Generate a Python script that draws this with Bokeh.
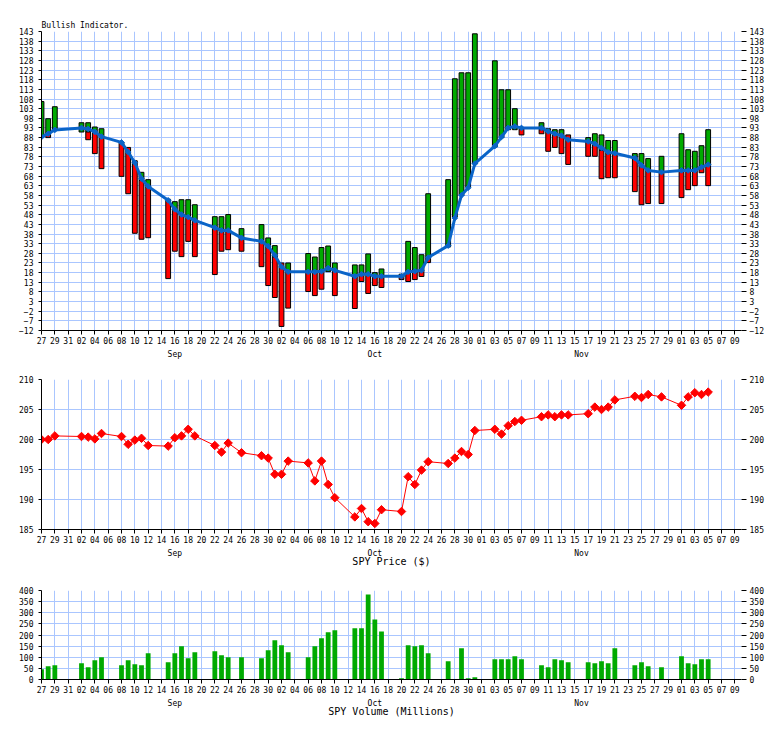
import math
import pandas as pd
from bokeh.plotting import figure
from bokeh.layouts import column
from bokeh.models import (Range1d, FixedTicker, LinearAxis, DatetimeAxis,
                          DatetimeTickFormatter, ColumnDataSource)
from bokeh.embed import file_html
from bokeh.resources import INLINE

# ---------------- data ----------------
dates = [
    "2014-08-27", "2014-08-28", "2014-08-29",
    "2014-09-02", "2014-09-03", "2014-09-04", "2014-09-05",
    "2014-09-08", "2014-09-09", "2014-09-10", "2014-09-11", "2014-09-12",
    "2014-09-15", "2014-09-16", "2014-09-17", "2014-09-18", "2014-09-19",
    "2014-09-22", "2014-09-23", "2014-09-24", "2014-09-26",
    "2014-09-29", "2014-09-30",
    "2014-10-01", "2014-10-02", "2014-10-03",
    "2014-10-06", "2014-10-07", "2014-10-08", "2014-10-09", "2014-10-10",
    "2014-10-13", "2014-10-14", "2014-10-15", "2014-10-16", "2014-10-17",
    "2014-10-20", "2014-10-21", "2014-10-22", "2014-10-23", "2014-10-24",
    "2014-10-27", "2014-10-28", "2014-10-29", "2014-10-30", "2014-10-31",
    "2014-11-03", "2014-11-04", "2014-11-05", "2014-11-06", "2014-11-07",
    "2014-11-10", "2014-11-11", "2014-11-12", "2014-11-13", "2014-11-14",
    "2014-11-17", "2014-11-18", "2014-11-19", "2014-11-20", "2014-11-21",
    "2014-11-24", "2014-11-25", "2014-11-26", "2014-11-28",
    "2014-12-01", "2014-12-02", "2014-12-03", "2014-12-04", "2014-12-05",
]

# Bullish indicator: bar top, split level (green above / red below), bar bottom
ind_high = [106.7, 97.8, 104.0,
            95.7, 95.7, 93.5, 92.6,
            85.7, 82.9, 76.0, 70.0, 66.2,
            56.0, 54.8, 55.8, 55.8, 53.2,
            47.0, 47.0, 48.1, 40.8,
            42.9, 36.0,
            32.0, 23.0, 23.0,
            27.9, 26.1, 31.0, 31.8, 23.0,
            22.0, 22.0, 27.7, 18.0, 19.9,
            17.2, 34.2, 31.0, 27.3, 58.9,
            66.2, 118.5, 121.6, 121.6, 141.8,
            127.8, 112.8, 112.8, 103.0, 92.5,
            95.7, 92.6, 92.1, 92.1, 89.4,
            88.0, 90.0, 89.4, 86.5, 86.5,
            79.7, 79.7, 77.1, 78.3,
            90.0, 81.7, 80.9, 83.8, 92.1]
ind_mid = [88.3, 90.0, 91.7,
           90.9, 90.9, 90.9, 88.3,
           85.7, 82.9, 76.0, 65.8, 62.4,
           56.0, 51.2, 48.6, 47.2, 45.5,
           41.3, 39.9, 39.9, 35.6,
           33.9, 32.2,
           26.1, 23.0, 18.4,
           18.4, 18.4, 19.2, 18.5, 19.2,
           16.1, 17.2, 17.5, 16.1, 16.1,
           15.6, 18.4, 19.2, 19.2, 25.3,
           31.3, 46.8, 58.1, 62.4, 74.5,
           83.1, 88.0, 92.1, 92.1, 92.5,
           92.1, 91.2, 90.0, 89.2, 89.4,
           85.7, 84.3, 81.4, 79.7, 79.3,
           77.9, 73.2, 71.0, 70.1,
           71.0, 71.0, 71.0, 73.2, 74.5]
ind_low = [88.3, 88.0, 91.7,
           90.9, 86.9, 79.7, 71.9,
           67.9, 58.9, 38.4, 35.3, 36.1,
           14.9, 29.1, 26.3, 34.2, 26.3,
           17.0, 29.1, 29.9, 29.1,
           21.1, 11.3,
           5.1, -9.9, -0.4,
           8.2, 6.1, 9.4, 18.5, 6.1,
           -0.6, 13.4, 7.2, 11.3, 10.3,
           14.4, 13.4, 14.4, 16.0, 23.2,
           31.3, 46.8, 58.1, 62.4, 74.5,
           83.1, 88.0, 92.1, 92.1, 89.4,
           90.0, 80.9, 82.9, 79.7, 74.1,
           78.3, 78.3, 66.7, 67.2, 67.2,
           60.0, 53.2, 53.8, 53.8,
           56.9, 61.0, 63.1, 69.8, 63.1]
ind_avg = [88.3, 90.0, 92.0,
           93.0, 92.5, 91.0, 88.5,
           85.5, 80.5, 75.0, 66.7, 62.7,
           55.5, 50.8, 48.1, 46.8, 45.1,
           41.3, 39.9, 39.9, 36.0,
           34.2, 31.7,
           27.0, 21.0, 18.4,
           18.4, 18.4, 18.7, 20.4, 19.2,
           16.1, 17.2, 17.2, 16.1, 16.1,
           16.1, 18.4, 18.7, 19.2, 25.8,
           32.0, 46.3, 58.1, 62.0, 74.5,
           83.6, 88.3, 93.1, 93.8, 93.0,
           93.0, 91.2, 90.0, 89.0, 86.9,
           86.0, 84.8, 82.6, 80.4, 79.9,
           77.4, 73.6, 71.0, 70.1,
           71.0, 71.0, 71.0, 72.7, 74.0]

spy_price = [200.0, 200.0, 200.6,
             200.5, 200.4, 200.1, 201.0,
             200.5, 199.2, 199.9, 200.2, 199.0,
             198.9, 200.3, 200.6, 201.7, 200.6,
             199.0, 197.9, 199.4, 197.8,
             197.3, 196.9,
             194.2, 194.2, 196.4,
             196.1, 193.1, 196.4, 192.5, 190.3,
             187.1, 188.5, 186.3, 186.0, 188.3,
             188.0, 193.8, 192.5, 194.9, 196.3,
             196.0, 196.9, 198.0, 197.5, 201.5,
             201.7, 200.9, 202.3, 203.0, 203.2,
             203.8, 204.1, 203.8, 204.1, 204.1,
             204.3, 205.4, 205.0, 205.4, 206.6,
             207.2, 207.0, 207.5, 207.1,
             205.7, 207.1, 207.8, 207.5, 207.9]

spy_volume = [46, 60, 64,
              73, 55, 87, 100,
              64, 87, 69, 64, 118,
              78, 118, 149, 95, 122,
              127, 109, 100, 100,
              95, 131,
              176, 154, 122,
              100, 149, 185, 212, 221,
              230, 230, 382, 270, 216,
              6, 154, 149, 154, 118,
              82, 2, 140, 6, 10,
              91, 91, 91, 104, 91,
              64, 55, 91, 87, 78,
              78, 73, 82, 73, 140,
              64, 78, 60, 55,
              104, 73, 69, 91, 91]

x_start, x_end = "2014-08-27", "2014-12-10"
x_tick_dates = list(pd.date_range("2014-08-27", "2014-12-09", freq="2D"))
month_label_dates = ["2014-09-16", "2014-10-16", "2014-11-16"]
ind_ticks = list(range(-12, 144, 5))
price_ticks = [185, 190, 195, 200, 205, 210]
vol_ticks = [0, 50, 100, 150, 200, 250, 300, 350, 400]

# ---------------- style ----------------
FONT = "DejaVu Sans Mono"
GRID = "#aac6ff"
GREEN = "#00aa00"
RED = "#ff0000"
BLUE = "#0a64c8"
DAY_MS = 86400000.0


def ms(d):
    return pd.Timestamp(d).value / 1e6


x = pd.to_datetime(dates)
xr = Range1d(start=ms(x_start), end=ms(x_end))
x_ticks = [ms(d) for d in x_tick_dates]
m_ticks = [ms(d) for d in month_label_dates]


def panel(height, top, bottom, y_lo, y_hi, y_ticks, title=None):
    p = figure(width=784, height=height, x_range=xr, y_range=Range1d(y_lo, y_hi),
               x_axis_type="datetime", output_backend="svg", toolbar_location=None,
               min_border_left=41, min_border_right=43,
               min_border_top=top, min_border_bottom=bottom)
    p.outline_line_color = None
    p.background_fill_color = "white"
    p.border_fill_color = "white"

    xa = p.below[0]
    xa.ticker = FixedTicker(ticks=x_ticks)
    xa.formatter = DatetimeTickFormatter(days="%d", months="%d", hours="%d")
    xa.major_tick_out = 4
    xa.major_tick_in = 0
    xa.minor_tick_out = 0
    xa.minor_tick_in = 0
    xa.major_label_standoff = 2
    xa.major_label_text_font = FONT
    xa.major_label_text_font_size = "8px"
    xa.major_label_text_color = "black"
    xa.axis_line_color = "black"
    xa.major_tick_line_color = "black"

    ma = DatetimeAxis(ticker=FixedTicker(ticks=m_ticks),
                      formatter=DatetimeTickFormatter(days="%b", months="%b", years="%b"))
    ma.axis_line_color = None
    ma.major_tick_line_color = None
    ma.minor_tick_line_color = None
    ma.major_tick_out = 0
    ma.major_tick_in = 0
    ma.minor_tick_out = 0
    ma.minor_tick_in = 0
    ma.major_label_standoff = 3
    ma.major_label_text_font = FONT
    ma.major_label_text_font_size = "8px"
    ma.major_label_text_color = "black"
    if title:
        ma.axis_label = title
        ma.axis_label_standoff = -5
        ma.axis_label_text_font = FONT
        ma.axis_label_text_font_size = "10px"
        ma.axis_label_text_font_style = "normal"
        ma.axis_label_text_color = "black"
    p.add_layout(ma, "below")

    ya = p.left[0]
    ya.ticker = FixedTicker(ticks=y_ticks)
    ya.major_tick_out = 3
    ya.major_tick_in = 0
    ya.minor_tick_out = 0
    ya.minor_tick_in = 0
    ya.major_label_standoff = 5
    ya.major_label_text_font = FONT
    ya.major_label_text_font_size = "8px"
    ya.major_label_text_color = "black"
    ya.axis_line_color = "black"

    ra = LinearAxis(ticker=FixedTicker(ticks=y_ticks))
    ra.major_tick_out = 5
    ra.major_tick_in = 0
    ra.minor_tick_out = 0
    ra.minor_tick_in = 0
    ra.major_label_standoff = 3
    ra.major_label_text_font = FONT
    ra.major_label_text_font_size = "8px"
    ra.major_label_text_color = "black"
    ra.axis_line_color = None
    p.add_layout(ra, "right")

    p.xgrid.ticker = FixedTicker(ticks=x_ticks)
    p.ygrid.ticker = FixedTicker(ticks=y_ticks)
    for g in (p.xgrid, p.ygrid):
        g.grid_line_color = GRID
        g.grid_line_width = 1
        g.grid_line_alpha = 1.0
    return p


# ---------------- top: bullish indicator ----------------
p1 = panel(368, 31, 38, ind_ticks[0], ind_ticks[-1], ind_ticks)
p1.title.text = "Bullish Indicator."
p1.title.align = "left"
p1.title.offset = 0
p1.title.text_font = FONT
p1.title.text_font_size = "8px"
p1.title.text_font_style = "normal"
p1.title.text_color = "black"
if "standoff" in p1.title.properties():
    p1.title.standoff = 3

df = pd.DataFrame({"x": x, "high": ind_high, "mid": ind_mid, "low": ind_low, "avg": ind_avg})
green = ColumnDataSource(df[df["high"] > df["mid"]])
red = ColumnDataSource(df[df["mid"] > df["low"]])
bw = 0.72 * DAY_MS
p1.vbar(x="x", width=bw, top="high", bottom="mid", source=green,
        fill_color=GREEN, line_color="black", line_width=1)
p1.vbar(x="x", width=bw, top="mid", bottom="low", source=red,
        fill_color=RED, line_color="black", line_width=1)
src = ColumnDataSource(df)
p1.line(x="x", y="avg", source=src, line_color=BLUE, line_width=3)
p1.scatter(x="x", y="avg", source=src, marker="square", angle=math.pi / 4, size=4,
           fill_color=BLUE, line_color=BLUE)

# ---------------- middle: SPY price ----------------
p2 = panel(206, 11, 45, price_ticks[0], price_ticks[-1], price_ticks, "SPY Price ($)")
psrc = ColumnDataSource(pd.DataFrame({"x": x, "price": spy_price}))
p2.line(x="x", y="price", source=psrc, line_color=RED, line_width=1)
p2.scatter(x="x", y="price", source=psrc, marker="square", angle=math.pi / 4, size=6,
           fill_color=RED, line_color=RED)

# ---------------- bottom: SPY volume ----------------
p3 = panel(155, 16, 50, vol_ticks[0], vol_ticks[-1], vol_ticks, "SPY Volume (Millions)")
vsrc = ColumnDataSource(pd.DataFrame({"x": x, "vol": spy_volume}))
p3.vbar(x="x", width=bw, top="vol", bottom=0, source=vsrc,
        fill_color=GREEN, line_color=None)

layout = column(p1, p2, p3, spacing=0)
open("out.html", "w").write(file_html(layout, INLINE))
